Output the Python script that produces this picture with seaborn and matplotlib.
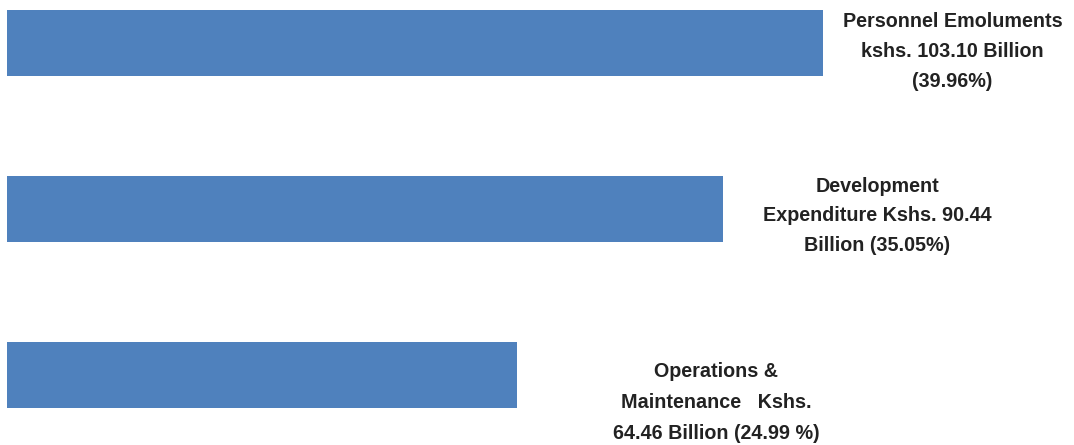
import matplotlib
matplotlib.use("Agg")
import matplotlib.pyplot as plt
import seaborn as sns
import pandas as pd
from matplotlib import font_manager

categories = ["Personnel Emoluments", "Development Expenditure", "Operations & Maintenance"]
amounts_bn = [103.10, 90.44, 64.46]
labels = [
    "Personnel Emoluments\nkshs. 103.10 Billion\n(39.96%)",
    "Development\nExpenditure Kshs. 90.44\nBillion (35.05%)",
    "Operations &\nMaintenance   Kshs.\n64.46 Billion (24.99 %)",
]

sns.set_theme(style="white")
available = {f.name for f in font_manager.fontManager.ttflist}
family = "Liberation Sans Narrow" if "Liberation Sans Narrow" in available else "Liberation Sans"
plt.rcParams["font.family"] = [family, "DejaVu Sans"]

df = pd.DataFrame({"category": categories, "amount": amounts_bn})

fig = plt.figure(figsize=(10.74, 4.45), dpi=100)
ax = fig.add_axes([0, 0, 1, 1])
sns.barplot(data=df, y="category", x="amount", orient="h", color="#4F81BD",
            saturation=1, width=0.4, linewidth=0, ax=ax)

ax.set_xlim(-0.884, 134.8)
ax.set_ylim(2.422, -0.259)
ax.axis("off")

# label anchors: x in axes fraction, y as offset from each bar's category
label_x = [0.887, 0.817, 0.667]
label_dy = [0.052, 0.042, 0.165]
spacing = [1.72, 1.72, 1.82]
for i, text in enumerate(labels):
    ax.annotate(text, xy=(label_x[i], i + label_dy[i]),
                xycoords=("axes fraction", "data"),
                ha="center", va="center", fontsize=14.2, fontweight="bold",
                color="#222222", linespacing=spacing[i])

fig.savefig("out.png", dpi=100)
